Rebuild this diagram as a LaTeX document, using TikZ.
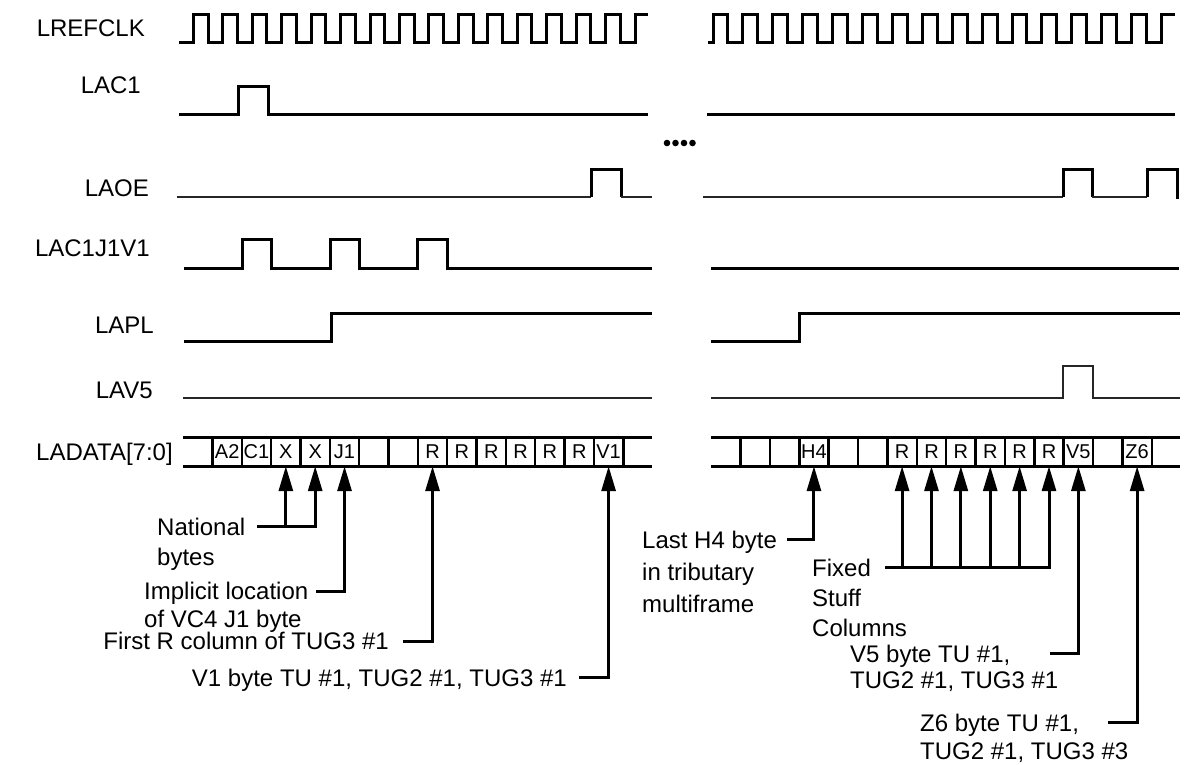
\documentclass[tikz,border=0pt]{standalone}
\usepackage{fontspec}
\setmainfont{Liberation Sans}
\usetikzlibrary{arrows.meta}
\begin{document}
\begin{tikzpicture}[x=1pt,y=-1pt,
  sig/.style={line width=3pt, line join=miter},
  thinsig/.style={line width=1.8pt, black!85},
  lbl/.style={font=\fontsize{24}{28}\selectfont, inner sep=0pt, anchor=base east},
  ann/.style={inner sep=0pt, align=left, anchor=north west},
  annr/.style={font=\fontsize{24}{28}\selectfont, inner sep=0pt, anchor=base east},
  cell/.style={minimum width=29.3pt, minimum height=29pt, inner sep=0pt, font=\fontsize{20}{20}\selectfont},
  arr/.style={line width=3pt, -{Triangle[length=25pt,width=14pt]}},
]
\useasboundingbox (0,0) rectangle (1186,764);

% ---------- signal names ----------
\node[lbl] (nclk)  at (145,36.6)  {LREFCLK};
\node[lbl] (nac1)  at (141,93.6)  {LAC1};
\node[lbl] (naoe)  at (149,196.6) {LAOE};
\node[lbl] (nj1v1) at (150,256.6) {LAC1J1V1};
\node[lbl] (napl)  at (154,333.6) {LAPL};
\node[lbl] (nav5)  at (153,398.6) {LAV5};
\node[lbl, anchor=base west] (ndata) at (36,460.6) {LADATA[7:0]};

% ---------- LREFCLK ----------
\draw[sig] (179,42) foreach \k in {0,...,14} { -- ({193.3+29.45*\k},42) -- ++(0,-28) -- ++(14.7,0) -- ++(0,28) }
  -- (635,42) -- (635,14) -- (648,14);
\draw[sig] (708,42) foreach \k in {0,...,14} { -- ({713+29.9*\k},42) -- ++(0,-28) -- ++(14.95,0) -- ++(0,28) }
  -- (1161.5,42) -- (1161.5,14) -- (1175,14);

% ---------- LAC1 ----------
\draw[sig] (179,114) -- (238,114) -- (238,86) -- (268,86) -- (268,114) -- (648,114);
\draw[sig] (707,114) -- (1175,114);

% ---------- dots ----------
\foreach \x in {667,675.5,684,692.5} \fill (\x,143) circle[radius=3.3];

% ---------- LAOE ----------
\draw[thinsig] (177,197) -- (591,197);
\draw[sig] (591,197) -- (591,169) -- (621,169) -- (621,197);
\draw[thinsig] (621,197) -- (652,197);
\draw[thinsig] (703,197) -- (1063,197);
\draw[sig] (1063,197) -- (1063,169) -- (1092,169) -- (1092,197);
\draw[thinsig] (1092,197) -- (1147,197);
\draw[sig] (1147,197) -- (1147,169) -- (1177,169) -- (1177,198.5);

% ---------- LAC1J1V1 ----------
\draw[sig] (184,268) -- (242,268) -- (242,239) -- (271.5,239) -- (271.5,268)
  -- (330,268) -- (330,239) -- (359,239) -- (359,268)
  -- (417.5,268) -- (417.5,239) -- (447,239) -- (447,268) -- (652,268);
\draw[sig] (711,268) -- (1179,268);

% ---------- LAPL ----------
\draw[sig] (184,341) -- (331,341) -- (331,313) -- (652,313);
\draw[sig] (711,341) -- (799,341) -- (799,313) -- (1180,313);

% ---------- LAV5 ----------
\draw[thinsig] (183,398) -- (652,398);
\draw[thinsig] (711,398) -- (1063,398) -- (1063,366) -- (1093,366) -- (1093,398) -- (1180,398);

% ---------- LADATA bus ----------
\draw[sig] (183,437) -- (652,437);
\draw[sig] (183,466) -- (652,466);
\draw[sig] (711,437) -- (1180,437);
\draw[sig] (711,466) -- (1180,466);
\foreach \i in {0,...,14} {
  \draw[line width=2.5pt] ({212.5+29.34*\i},437) -- ++(0,29);
  \draw[line width=2.5pt] ({740.5+29.38*\i},437) -- ++(0,29);
}
\foreach \t [count=\i] in {A2,C1,X,X,J1,{},{},R,R,R,R,R,R,V1}
  \node[cell] (L\i) at ({212.5+29.34*(\i-0.5)},451.5) {\t};
\foreach \t [count=\i] in {{},{},H4,{},{},R,R,R,R,R,R,V5,{},Z6}
  \node[cell] (R\i) at ({740.5+29.38*(\i-0.5)},451.5) {\t};

% ---------- annotations (left) ----------
\node[ann, font=\fontsize{24}{30}\selectfont] (tnat) at (157,517.4) {National\\bytes};
\node[ann, font=\fontsize{24}{28}\selectfont] (timp) at (144,581.4) {Implicit location\\of VC4 J1 byte};
\node[annr] (tfr) at (389,649.6) {First R column of TUG3 \#1};
\node[annr] (tv1) at (567,686.6) {V1 byte TU \#1, TUG2 \#1, TUG3 \#1};

\coordinate (cnat) at (257,526);
\coordinate (cimp) at (316,591);
\coordinate (cfr)  at (403,641);
\coordinate (cv1)  at (579,677);
\draw[arr] (cnat) -| (L4.south);
\draw[arr] (cnat -| L3.south) -- (L3.south);
\draw[arr] (cimp) -| (L5.south);
\draw[arr] (cfr) -| (L8.south);
\draw[arr] (cv1) -| (L14.south);

% ---------- annotations (right) ----------
\node[ann, font=\fontsize{24}{32}\selectfont] (th4) at (642,530.4) {Last H4 byte\\in tributary\\multiframe};
\node[ann, font=\fontsize{24}{30}\selectfont] (tfix) at (812,558.4) {Fixed\\Stuff\\Columns};
\node[ann, font=\fontsize{24}{26}\selectfont] (tv5) at (850,644.4) {V5 byte TU \#1,\\TUG2 \#1, TUG3 \#1};
\node[ann, font=\fontsize{24}{28}\selectfont] (tz6) at (920,713.4) {Z6 byte TU \#1,\\TUG2 \#1, TUG3 \#3};

\coordinate (ch4)  at (787,539);
\coordinate (cfix) at (885,567);
\coordinate (cv5)  at (1050,653);
\coordinate (cz6)  at (1108,722);
\draw[arr] (ch4) -| (R3.south);
\draw[arr] (cfix) -| (R11.south);
\foreach \i in {6,...,10} \draw[arr] (cfix -| R\i.south) -- (R\i.south);
\draw[arr] (cv5) -| (R12.south);
\draw[arr] (cz6) -| (R14.south);
\end{tikzpicture}
\end{document}
